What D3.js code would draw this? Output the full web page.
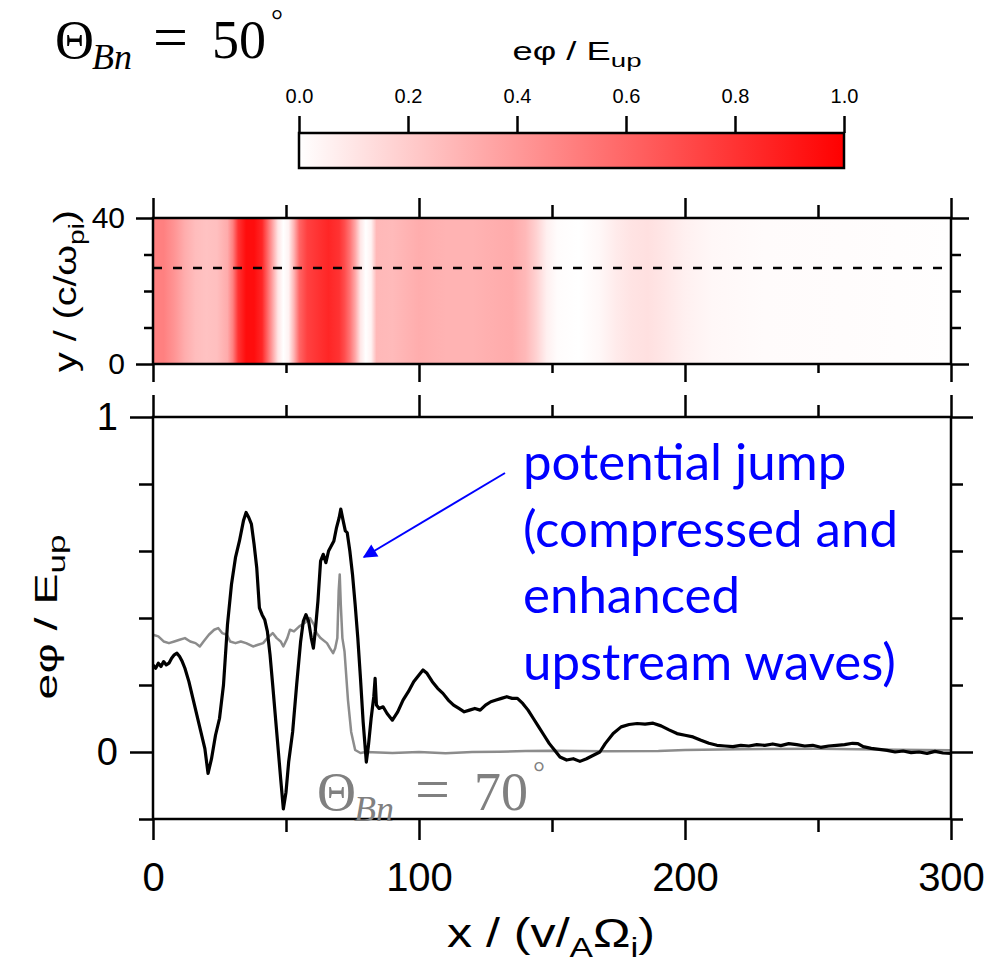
<!DOCTYPE html>
<html>
<head>
<meta charset="utf-8">
<script src="https://cdn.jsdelivr.net/npm/d3@7"></script>
<style>
  body { margin: 0; background: #fff; }
  svg { display: block; }
  text { font-family: "Liberation Sans", Arial, sans-serif; }
</style>
</head>
<body>
<svg width="991" height="963"></svg>
<script>
// heat map profile along x (averaged over y), e phi / E_up
const mapX = [0, 4, 8, 12, 16, 20, 24, 28, 30, 32, 35, 38, 41, 43, 45, 47, 49, 51, 53, 55, 58, 62, 66, 70, 72, 74, 76, 78, 80, 82, 84, 90, 100, 110, 120, 130, 135, 140, 144, 148, 152, 160, 168, 174, 180, 186, 192, 200, 210, 230, 260, 300];
const mapV = [0.5, 0.5, 0.42, 0.32, 0.26, 0.24, 0.25, 0.33, 0.5, 0.8, 0.95, 0.95, 0.85, 0.6, 0.35, 0.1, 0.0, 0.05, 0.3, 0.6, 0.75, 0.8, 0.85, 0.8, 0.7, 0.55, 0.35, 0.1, 0.0, 0.05, 0.28, 0.27, 0.32, 0.3, 0.3, 0.32, 0.33, 0.28, 0.18, 0.06, 0.01, 0.0, 0.03, 0.08, 0.11, 0.12, 0.1, 0.06, 0.03, 0.015, 0.01, 0.005];
const cutY = 26.3; // dashed line position of the 1D cut

// theta_Bn = 50 deg profile (black)
const blackX = [0, 1, 2, 3, 4, 5, 6, 7, 8, 9, 10, 11, 12, 13.5, 15, 16.5, 18, 19.5, 20.7, 22, 23.5, 25, 26.5, 28, 29.5, 31, 32.5, 34, 35, 36, 37, 38, 39, 40, 41, 42, 43, 44, 45, 46.5, 48, 49, 50, 51, 52.5, 54, 55.5, 56.5, 57.5, 58.5, 59.5, 60.3, 61, 62, 63, 64, 65, 66, 67, 68, 69, 70, 70.6, 71.5, 72.3, 73, 74, 75, 76, 77, 78, 79, 80.2, 81, 82, 83, 83.5, 84, 85, 86.5, 88, 90, 92, 94, 96, 98, 100, 101.5, 103, 105, 107, 109, 111, 113, 115, 117, 119, 121, 123, 125, 127, 129, 131, 133, 135, 137, 139, 141, 143, 145, 147, 149, 151, 153, 155.5, 158, 160.5, 163, 165, 168, 170, 173, 176, 179, 182, 185, 188, 191, 194, 197, 200, 203, 206, 209, 212, 215, 218, 221, 224, 227, 230, 233, 236, 239, 242, 245, 248, 251, 254, 257, 260, 263, 265, 267, 270, 273, 276, 279, 282, 285, 288, 291, 294, 297, 300];
const blackV = [0.26, 0.25, 0.265, 0.255, 0.27, 0.26, 0.265, 0.28, 0.29, 0.295, 0.285, 0.27, 0.25, 0.21, 0.16, 0.11, 0.06, 0.01, -0.064, -0.02, 0.05, 0.1, 0.2, 0.38, 0.5, 0.58, 0.63, 0.69, 0.715, 0.7, 0.68, 0.62, 0.55, 0.43, 0.41, 0.395, 0.36, 0.29, 0.2, 0.06, -0.08, -0.17, -0.12, -0.03, 0.06, 0.2, 0.33, 0.39, 0.41, 0.39, 0.34, 0.31, 0.36, 0.45, 0.57, 0.59, 0.565, 0.6, 0.615, 0.63, 0.67, 0.7, 0.725, 0.69, 0.66, 0.655, 0.6, 0.53, 0.44, 0.34, 0.22, 0.09, -0.03, 0.02, 0.1, 0.165, 0.22, 0.14, 0.13, 0.135, 0.115, 0.095, 0.12, 0.155, 0.18, 0.21, 0.23, 0.245, 0.235, 0.21, 0.19, 0.175, 0.155, 0.14, 0.13, 0.12, 0.125, 0.13, 0.125, 0.14, 0.15, 0.155, 0.16, 0.165, 0.16, 0.16, 0.145, 0.125, 0.1, 0.075, 0.05, 0.025, 0.005, -0.015, -0.024, -0.02, -0.028, -0.02, -0.012, 0.0, 0.025, 0.055, 0.075, 0.082, 0.085, 0.083, 0.086, 0.078, 0.066, 0.055, 0.05, 0.045, 0.035, 0.026, 0.02, 0.018, 0.016, 0.02, 0.018, 0.022, 0.02, 0.024, 0.019, 0.025, 0.022, 0.018, 0.02, 0.014, 0.018, 0.02, 0.022, 0.026, 0.025, 0.016, 0.011, 0.008, 0.005, 0.0, 0.003, -0.002, 0.0, -0.004, 0.002, -0.003, -0.004];

// theta_Bn = 70 deg profile (gray)
const grayX = [0, 2, 4, 6, 8, 10, 12, 14, 16, 17.6, 19, 21, 23, 24.5, 26, 27.8, 29, 31, 33, 35, 37.6, 39.5, 41.4, 43, 45, 46.5, 48, 49, 50.5, 51.5, 53, 55, 57, 59, 60.5, 61.5, 63, 65.4, 66.5, 67.7, 68.5, 69.3, 69.8, 70.2, 70.6, 71.2, 72, 73.3, 74.5, 76, 78, 80, 90, 100, 110, 120, 130, 140, 150, 170, 190, 200, 220, 250, 280, 300];
const grayV = [0.35, 0.345, 0.33, 0.325, 0.33, 0.335, 0.34, 0.33, 0.325, 0.315, 0.33, 0.35, 0.365, 0.37, 0.355, 0.35, 0.33, 0.325, 0.33, 0.325, 0.315, 0.32, 0.325, 0.34, 0.355, 0.34, 0.33, 0.315, 0.34, 0.365, 0.36, 0.375, 0.385, 0.4, 0.38, 0.355, 0.34, 0.325, 0.31, 0.295, 0.31, 0.34, 0.48, 0.53, 0.44, 0.34, 0.3, 0.155, 0.06, 0.006, -0.003, 0.0, -0.003, 0.0, -0.004, 0.0, 0.001, 0.003, 0.004, 0.002, 0.003, 0.006, 0.008, 0.01, 0.007, 0.005];

const xMajor = [0, 100, 200, 300];
const xMinor = [50, 150, 250];
const yTopMajor = [0, 40];
const yTopMinor = [10, 20, 30];
const yBotMajor = [0, 1];
const yBotMinor = [-0.2, 0.2, 0.4, 0.6, 0.8];
const cbarTicks = [0, 0.2, 0.4, 0.6, 0.8, 1.0];

const svg = d3.select('svg');
const x = d3.scaleLinear().domain([0, 300]).range([153, 951]);
const yTop = d3.scaleLinear().domain([0, 40]).range([364, 218]);
const yBot = d3.scaleLinear().domain([-0.2, 1]).range([819, 417]);
const cb = d3.scaleLinear().domain([0, 1]).range([299, 844]);
const color = v => d3.interpolateRgb('#ffffff', '#ff0000')(Math.max(0, Math.min(1, v)));

const defs = svg.append('defs');

// colour bar
const cg = defs.append('linearGradient').attr('id', 'cbar')
  .attr('gradientUnits', 'userSpaceOnUse')
  .attr('x1', cb(0)).attr('x2', cb(1)).attr('y1', 0).attr('y2', 0);
cbarTicks.forEach(v => cg.append('stop').attr('offset', v).attr('stop-color', color(v)));
svg.append('rect').attr('x', cb(0)).attr('y', 133).attr('width', cb(1) - cb(0)).attr('height', 35)
  .attr('fill', 'url(#cbar)').attr('stroke', '#000').attr('stroke-width', 2.5);
svg.append('g').attr('transform', 'translate(0,133)')
  .call(d3.axisTop(cb).tickValues(cbarTicks).tickSize(17).tickSizeOuter(0).tickPadding(13).tickFormat(d3.format('.1f')))
  .call(g => g.select('.domain').remove())
  .call(g => g.selectAll('line').attr('stroke-width', 2.5))
  .call(g => g.selectAll('text').attr('font-size', 20).attr('font-family', '"Liberation Sans", Arial'));
const ct = svg.append('text').attr('x', 577).attr('y', 60).attr('text-anchor', 'middle')
  .attr('font-size', 25).attr('textLength', 129).attr('lengthAdjust', 'spacingAndGlyphs');
ct.append('tspan').text('eφ / E');
ct.append('tspan').attr('font-size', 19).attr('dy', 7).text('up');

// heat map
const hg = defs.append('linearGradient').attr('id', 'heat')
  .attr('gradientUnits', 'userSpaceOnUse')
  .attr('x1', x(0)).attr('x2', x(300)).attr('y1', 0).attr('y2', 0);
mapX.forEach((d, i) => hg.append('stop')
  .attr('offset', (x(d) - x(0)) / (x(300) - x(0)))
  .attr('stop-color', color(mapV[i])));
svg.append('rect').attr('x', x(0)).attr('y', yTop(40)).attr('width', x(300) - x(0)).attr('height', yTop(0) - yTop(40))
  .attr('fill', 'url(#heat)');
svg.append('line').attr('x1', x(0)).attr('x2', x(300)).attr('y1', yTop(cutY)).attr('y2', yTop(cutY))
  .attr('stroke', '#000').attr('stroke-width', 2.5).attr('stroke-dasharray', '9,11');

// bottom panel lines
const line = d3.line().x(d => x(d[0])).y(d => yBot(d[1]));
svg.append('path').datum(d3.zip(grayX, grayV)).attr('d', line)
  .attr('fill', 'none').attr('stroke', '#8c8c8c').attr('stroke-width', 2.5).attr('stroke-linejoin', 'round');
svg.append('path').datum(d3.zip(blackX, blackV)).attr('d', line)
  .attr('fill', 'none').attr('stroke', '#000').attr('stroke-width', 3.2).attr('stroke-linejoin', 'round');

// axes
function ax(gen, vals, size, pad, fmt, tr, fs) {
  svg.append('g').attr('transform', tr)
    .call(gen.tickValues(vals).tickSize(size).tickSizeOuter(0).tickPadding(pad).tickFormat(fmt))
    .call(g => g.select('.domain').remove())
    .call(g => g.selectAll('line').attr('stroke-width', 2.5))
    .call(g => g.selectAll('text').attr('font-size', fs).attr('font-family', '"Liberation Sans", Arial'));
}
const none = () => '';
// top panel
ax(d3.axisTop(x), xMajor, 20, 0, none, `translate(0,${yTop(40)})`, 0);
ax(d3.axisTop(x), xMinor, 13, 0, none, `translate(0,${yTop(40)})`, 0);
ax(d3.axisBottom(x), xMajor, 18, 0, none, `translate(0,${yTop(0)})`, 0);
ax(d3.axisBottom(x), xMinor, 9, 0, none, `translate(0,${yTop(0)})`, 0);
ax(d3.axisLeft(yTop), yTopMajor, 17, 11, d3.format('d'), `translate(${x(0)},0)`, 30);
ax(d3.axisLeft(yTop), yTopMinor, 9, 0, none, `translate(${x(0)},0)`, 0);
ax(d3.axisRight(yTop), yTopMajor, 18, 0, none, `translate(${x(300)},0)`, 0);
ax(d3.axisRight(yTop), yTopMinor, 10, 0, none, `translate(${x(300)},0)`, 0);
svg.append('rect').attr('x', x(0)).attr('y', yTop(40)).attr('width', x(300) - x(0)).attr('height', yTop(0) - yTop(40))
  .attr('fill', 'none').attr('stroke', '#000').attr('stroke-width', 2.5);
// bottom panel
ax(d3.axisTop(x), xMajor, 22, 0, none, `translate(0,${yBot(1)})`, 0);
ax(d3.axisTop(x), xMinor, 12, 0, none, `translate(0,${yBot(1)})`, 0);
ax(d3.axisBottom(x), xMajor, 21, 23, d3.format('d'), `translate(0,${yBot(-0.2)})`, 40);
ax(d3.axisBottom(x), xMinor, 13, 0, none, `translate(0,${yBot(-0.2)})`, 0);
ax(d3.axisLeft(yBot), yBotMajor, 23, 12, d3.format('d'), `translate(${x(0)},0)`, 38);
ax(d3.axisLeft(yBot), yBotMinor, 14, 0, none, `translate(${x(0)},0)`, 0);
ax(d3.axisRight(yBot), yBotMajor, 22, 0, none, `translate(${x(300)},0)`, 0);
ax(d3.axisRight(yBot), yBotMinor, 12, 0, none, `translate(${x(300)},0)`, 0);
svg.append('rect').attr('x', x(0)).attr('y', yBot(1)).attr('width', x(300) - x(0)).attr('height', yBot(-0.2) - yBot(1))
  .attr('fill', 'none').attr('stroke', '#000').attr('stroke-width', 2.5);

// axis titles
const yl1 = svg.append('text').attr('transform', 'translate(76,291) rotate(-90)').attr('text-anchor', 'middle')
  .attr('font-size', 31).attr('textLength', 162).attr('lengthAdjust', 'spacingAndGlyphs');
yl1.append('tspan').text('y / (c/ω');
yl1.append('tspan').attr('font-size', 22).attr('dy', 8).text('pi');
yl1.append('tspan').attr('dy', -8).text(')');

const yl2 = svg.append('text').attr('transform', 'translate(57,617) rotate(-90)').attr('text-anchor', 'middle')
  .attr('font-size', 32).attr('textLength', 165).attr('lengthAdjust', 'spacingAndGlyphs');
yl2.append('tspan').text('eφ / E');
yl2.append('tspan').attr('font-size', 24).attr('dy', 8).text('up');

const xl = svg.append('text').attr('x', 551).attr('y', 947).attr('text-anchor', 'middle')
  .attr('font-size', 40).attr('textLength', 208).attr('lengthAdjust', 'spacingAndGlyphs');
xl.append('tspan').text('x / (v/');
xl.append('tspan').attr('font-size', 28).attr('dy', 10).text('A');
xl.append('tspan').attr('dy', -10).text('Ω');
xl.append('tspan').attr('font-size', 28).attr('dy', 10).text('i');
xl.append('tspan').attr('dy', -10).text(')');

// theta labels
function theta(x0, base, deg, fill) {
  const g = svg.append('g').attr('fill', fill).style('font-family', '"Liberation Serif", "Times New Roman", serif');
  g.append('text').attr('x', x0).attr('y', base).attr('font-size', 54).style('font-family', 'inherit').text('Θ');
  g.append('text').attr('x', x0 + 37).attr('y', base + 11).attr('font-size', 36).attr('font-style', 'italic').style('font-family', 'inherit').text('Bn');
  g.append('text').attr('x', x0 + 98).attr('y', base).attr('font-size', 62).style('font-family', 'inherit').text('=');
  g.append('text').attr('x', x0 + 157).attr('y', base).attr('font-size', 54).style('font-family', 'inherit').text(deg);
  g.append('text').attr('x', x0 + 216).attr('y', base - 28).attr('font-size', 30).style('font-family', 'inherit').text('°');
}
theta(55, 58, '50', '#000');
theta(317, 810, '70', '#808080');

// annotation
defs.append('marker').attr('id', 'arr').attr('viewBox', '0 0 10 10').attr('refX', 9).attr('refY', 5)
  .attr('markerWidth', 8).attr('markerHeight', 7).attr('markerUnits', 'strokeWidth').attr('orient', 'auto')
  .append('path').attr('d', 'M0,0L10,5L0,10z').attr('fill', '#0000ff');
svg.append('line').attr('x1', 505).attr('y1', 473).attr('x2', 364).attr('y2', 557)
  .attr('stroke', '#0000ff').attr('stroke-width', 2).attr('marker-end', 'url(#arr)');
const notes = ['potential jump', '(compressed and', 'enhanced', 'upstream waves)'];
svg.append('g').selectAll('text').data(notes).join('text')
  .attr('x', 523).attr('y', (d, i) => 480 + i * 66.7)
  .attr('fill', '#0000ff').attr('font-size', 51).style('font-family', 'Lato, "Open Sans", sans-serif')
  .text(d => d);
</script>
</body>
</html>
